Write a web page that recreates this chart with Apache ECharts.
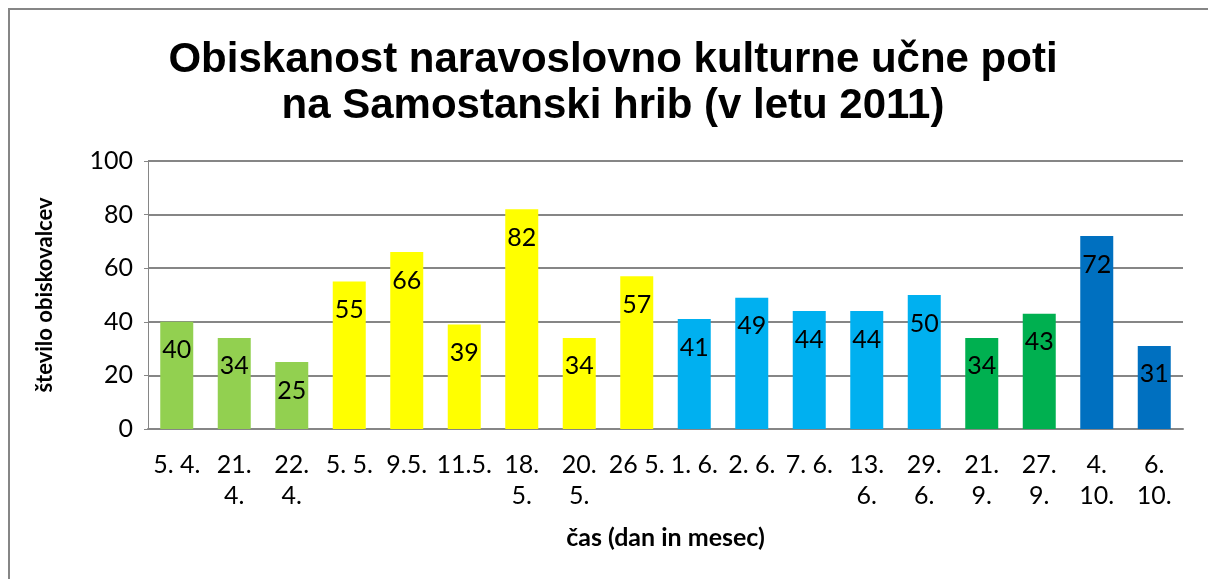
<!DOCTYPE html>
<html>
<head>
<meta charset="utf-8">
<script src="https://cdn.jsdelivr.net/npm/echarts@6/dist/echarts.min.js"></script>
<style>
  html, body { margin: 0; padding: 0; background: #fff; }
  #chart { width: 1208px; height: 579px; }
</style>
</head>
<body>
<div id="chart"></div>
<script>
const categories = ['5. 4.', '21.\n4.', '22.\n4.', '5. 5.', '9.5.', '11.5.', '18.\n5.', '20.\n5.', '26 5.',
  '1. 6.', '2. 6.', '7. 6.', '13.\n6.', '29.\n6.', '21.\n9.', '27.\n9.', '4.\n10.', '6.\n10.']
const visitors = [40, 34, 25, 55, 66, 39, 82, 34, 57, 41, 49, 44, 44, 50, 34, 43, 72, 31]
const barColors = ['#92D050', '#92D050', '#92D050', '#FFFF00', '#FFFF00', '#FFFF00', '#FFFF00', '#FFFF00', '#FFFF00',
  '#00B0F0', '#00B0F0', '#00B0F0', '#00B0F0', '#00B0F0', '#00B050', '#00B050', '#0070C0', '#0070C0']
const yTicks = [0, 20, 40, 60, 80, 100]

const font = 'Lato, "Open Sans", sans-serif'
const gridColor = '#868686'

const chart = echarts.init(document.getElementById('chart'))

chart.setOption({
  animation: false,
  title: {
    text: 'Obiskanost naravoslovno kulturne učne poti\nna Samostanski hrib (v letu 2011)',
    left: 608,
    top: 32,
    textAlign: 'center',
    textStyle: {
      fontFamily: '"Liberation Sans", Arial, sans-serif',
      fontWeight: 'bold',
      fontSize: 42,
      lineHeight: 46,
      color: '#000'
    }
  },
  graphic: [{
    type: 'rect',
    shape: { x: 9, y: 9, width: 1300, height: 700 },
    style: { fill: 'none', stroke: gridColor, lineWidth: 2 },
    silent: true
  }],
  grid: {
    left: 148,
    right: 25,
    top: 161,
    bottom: 150
  },
  xAxis: {
    type: 'category',
    data: categories,
    name: 'čas (dan in mesec)',
    nameLocation: 'middle',
    nameGap: 96,
    nameTextStyle: {
      fontFamily: font,
      fontWeight: 'bold',
      fontSize: 25,
      color: '#000'
    },
    axisLine: { lineStyle: { color: gridColor, width: 2 } },
    axisTick: { show: false },
    axisLabel: {
      interval: 0,
      margin: 20,
      fontFamily: font,
      fontSize: 25,
      lineHeight: 31,
      color: '#000'
    }
  },
  yAxis: {
    type: 'value',
    min: yTicks[0],
    max: yTicks[yTicks.length - 1],
    interval: 20,
    name: 'število obiskovalcev',
    nameLocation: 'middle',
    nameRotate: 90,
    nameGap: 92,
    nameTextStyle: {
      fontFamily: font,
      fontWeight: 'bold',
      fontSize: 22,
      color: '#000'
    },
    axisLine: { show: true, lineStyle: { color: gridColor, width: 1 } },
    axisTick: { show: true, length: 4, lineStyle: { color: gridColor } },
    axisLabel: {
      margin: 15,
      fontFamily: font,
      fontSize: 25,
      color: '#000'
    },
    splitLine: { lineStyle: { color: gridColor, width: 2 } }
  },
  series: [{
    type: 'bar',
    barWidth: 33,
    data: visitors.map((v, i) => ({ value: v, itemStyle: { color: barColors[i] } })),
    label: {
      show: true,
      position: 'insideTop',
      distance: 16,
      fontFamily: font,
      fontSize: 25,
      color: '#000'
    }
  }]
})
</script>
</body>
</html>
